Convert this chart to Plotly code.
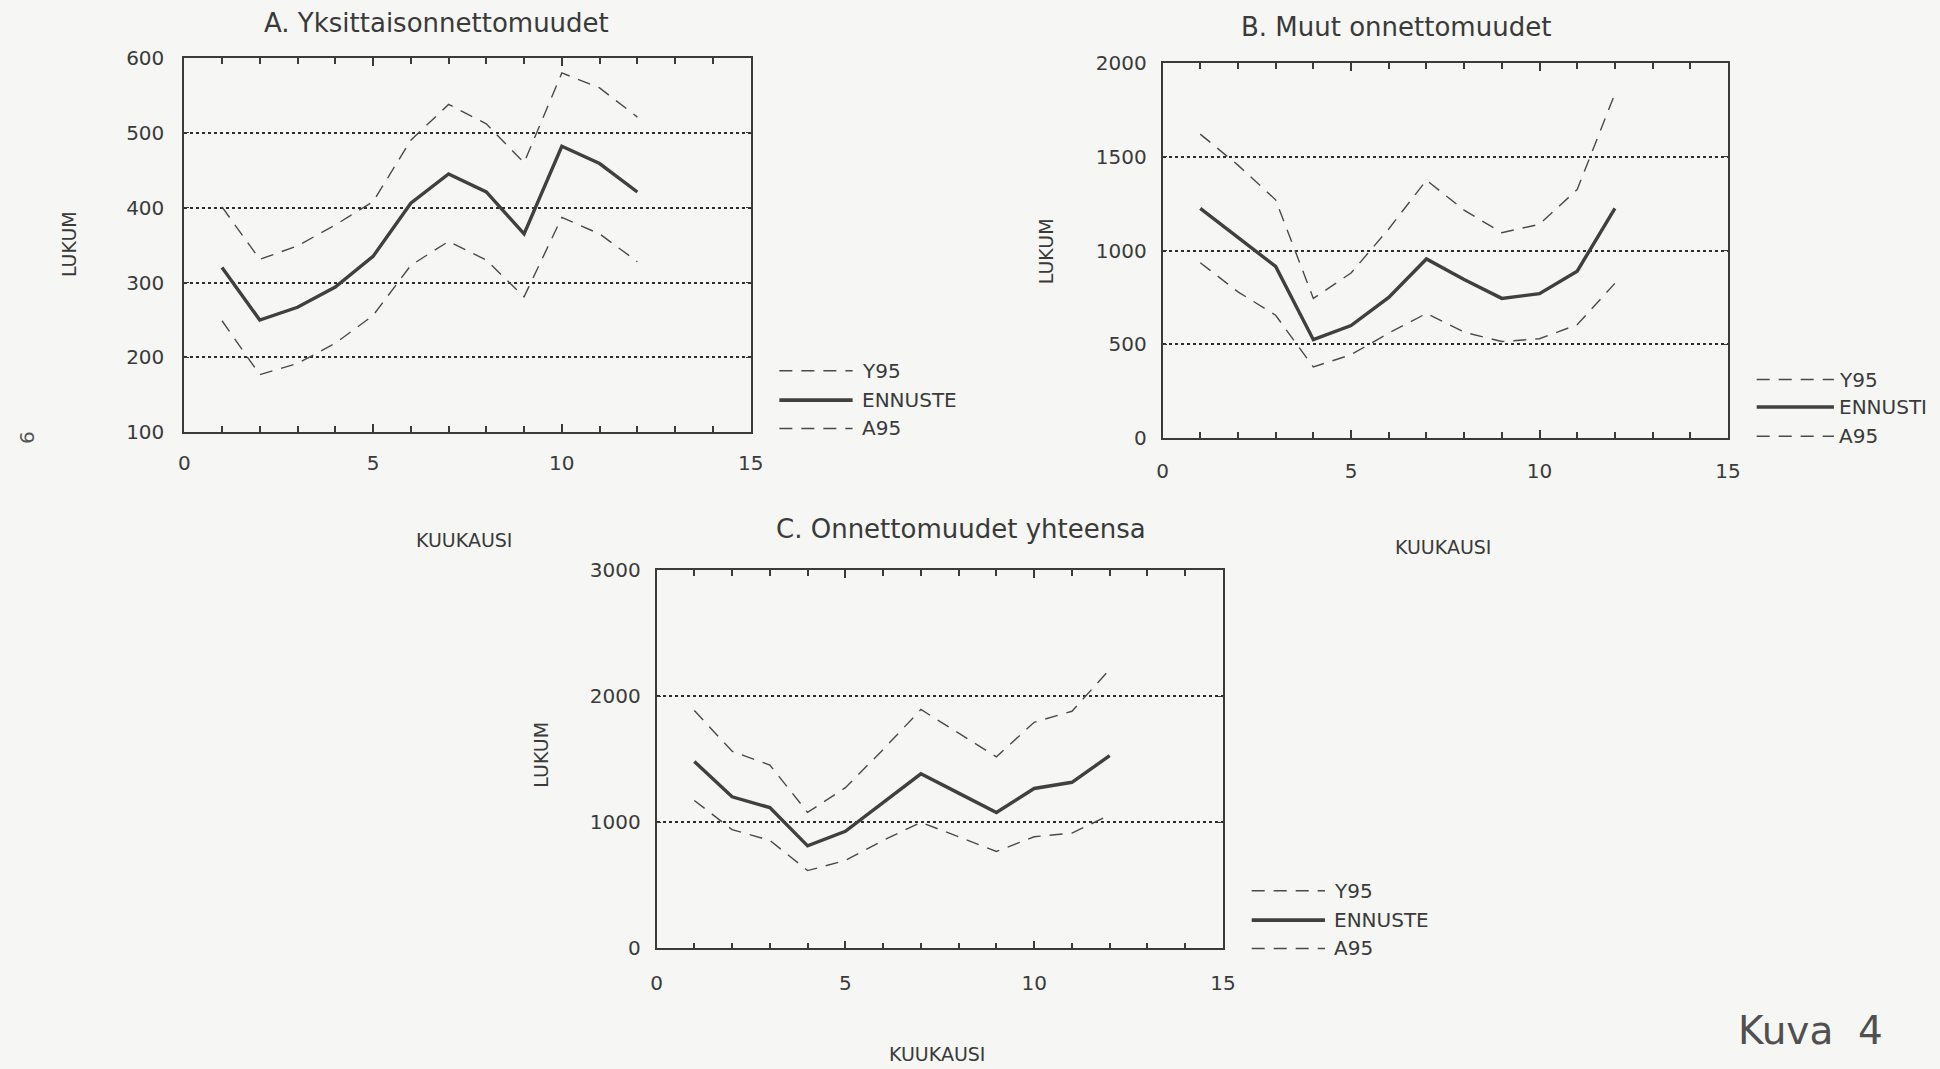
import plotly.graph_objects as go

W, H = 1940, 1069

months = list(range(1, 13))

a_y95 = [401, 331, 349, 377, 408, 490, 538, 512, 460, 580, 560, 521]
a_ennuste = [320, 250, 267, 294, 335, 406, 445, 421, 365, 482, 459, 421]
a_a95 = [249, 177, 192, 219, 256, 323, 355, 330, 281, 387, 365, 328]

b_y95 = [1620, 1455, 1270, 745, 880, 1115, 1375, 1215, 1095, 1140, 1325, 1835]
b_ennuste = [1225, 1070, 915, 525, 600, 750, 955, 845, 745, 770, 890, 1225]
b_a95 = [935, 780, 655, 380, 445, 560, 665, 565, 515, 530, 605, 825]

c_y95 = [1887, 1564, 1455, 1079, 1275, 1578, 1895, 1708, 1520, 1794, 1881, 2213]
c_ennuste = [1483, 1203, 1117, 814, 929, 1160, 1385, 1232, 1079, 1269, 1318, 1529]
c_a95 = [1174, 943, 857, 618, 698, 857, 1001, 886, 770, 886, 915, 1059]

titles = ["A. Yksittaisonnettomuudet", "B. Muut onnettomuudet", "C. Onnettomuudet yhteensa"]
legend_names = [["Y95", "ENNUSTE", "A95"], ["Y95", "ENNUSTI", "A95"], ["Y95", "ENNUSTE", "A95"]]
y_ranges = [[100, 600], [0, 2000], [0, 3000]]
y_dticks = [100, 500, 1000]

FONT = "DejaVu Sans"
INK = "#3a3a3a"
DASH = "13px,9px"

# panel geometry in pixels (left, right, top, bottom)
panels = [(180, 752, 47, 430), (1168, 1739, 52, 436), (657, 1229, 571, 958)]
title_pos = [(435, 11), (1404, 15), (964, 529)]
ylab_pos = [(63, 237), (1051, 245), (540, 760)]
xlab_pos = [(463, 540), (1451, 547), (940, 1066)]
x_standoff = [12, 14, 16]
y_standoff = [14, 10, 10]
# legend: line x0, x1, text x, rows y
legend_pos = [(781, 855, 862, [367, 397, 426]),
              (1768, 1846, 1849, [376, 404, 434]),
              (1258, 1332, 1339, [899, 929, 958])]

series = [(a_y95, a_ennuste, a_a95), (b_y95, b_ennuste, b_a95), (c_y95, c_ennuste, c_a95)]

fig = go.Figure()
annotations = []
shapes = []

def px(x):
    return x / W

def py(y):
    return 1 - y / H

for i, (up, mid, lo) in enumerate(series):
    ax = "" if i == 0 else str(i + 1)
    xa, ya = "x" + ax, "y" + ax
    fig.add_trace(go.Scatter(x=months, y=up, mode="lines", xaxis=xa, yaxis=ya,
                             line=dict(color="#4a4a4a", width=1.4, dash=DASH), showlegend=False))
    fig.add_trace(go.Scatter(x=months, y=mid, mode="lines", xaxis=xa, yaxis=ya,
                             line=dict(color="#404040", width=3.4), showlegend=False))
    fig.add_trace(go.Scatter(x=months, y=lo, mode="lines", xaxis=xa, yaxis=ya,
                             line=dict(color="#4a4a4a", width=1.4, dash=DASH), showlegend=False))

    l, r, t, b = panels[i]
    xkey = "xaxis" + ax
    ykey = "yaxis" + ax
    fig.update_layout(**{
        xkey: dict(domain=[px(l), px(r)], range=[0, 15], anchor=ya,
                   tickmode="linear", tick0=0, dtick=5,
                   ticks="inside", ticklen=8, tickwidth=1.6, tickcolor=INK,
                   minor=dict(dtick=1, ticks="inside", ticklen=6, tickwidth=1.5, tickcolor=INK),
                   showline=True, linecolor=INK, linewidth=1.8, mirror="ticks",
                   showgrid=False, zeroline=False,
                   ticklabelstandoff=x_standoff[i],
                   tickfont=dict(family=FONT, size=20, color=INK)),
        ykey: dict(domain=[py(b), py(t)], range=y_ranges[i], anchor=xa,
                   tickmode="linear", tick0=y_ranges[i][0], dtick=y_dticks[i],
                   ticks="inside", ticklen=5, tickwidth=1.2, tickcolor=INK,
                   showline=True, linecolor=INK, linewidth=1.8, mirror="ticks",
                   showgrid=True, gridcolor="#2e2e2e", gridwidth=1.8, griddash="dot",
                   zeroline=False,
                   ticklabelstandoff=y_standoff[i],
                   tickfont=dict(family=FONT, size=20, color=INK)),
    })

    tx, ty = title_pos[i]
    annotations.append(dict(text=titles[i], x=px(tx), y=py(ty), xref="paper", yref="paper",
                            showarrow=False, xanchor="center", yanchor="middle",
                            font=dict(family=FONT, size=26, color=INK)))
    lx, ly = ylab_pos[i]
    annotations.append(dict(text="LUKUM", x=px(lx), y=py(ly), xref="paper", yref="paper",
                            showarrow=False, textangle=-90, xanchor="center", yanchor="middle",
                            font=dict(family=FONT, size=19, color=INK)))
    kx, ky = xlab_pos[i]
    annotations.append(dict(text="KUUKAUSI", x=px(kx), y=py(ky), xref="paper", yref="paper",
                            showarrow=False, xanchor="center", yanchor="middle",
                            font=dict(family=FONT, size=19, color=INK)))

    x0, x1, txx, rows = legend_pos[i]
    for j, name in enumerate(legend_names[i]):
        yy = py(rows[j])
        if j == 1:
            line = dict(color="#404040", width=3.6)
        else:
            line = dict(color="#4a4a4a", width=1.6, dash=DASH)
        shapes.append(dict(type="line", xref="paper", yref="paper",
                           x0=px(x0), x1=px(x1), y0=yy, y1=yy, line=line))
        annotations.append(dict(text=name, x=px(txx), y=yy, xref="paper", yref="paper",
                                showarrow=False, xanchor="left", yanchor="middle",
                                font=dict(family=FONT, size=20, color=INK)))

annotations.append(dict(text="Kuva&nbsp;&nbsp;4", x=px(1822), y=py(1042), xref="paper", yref="paper",
                        showarrow=False, xanchor="center", yanchor="middle",
                        font=dict(family=FONT, size=39, color="#505050")))
annotations.append(dict(text="6", x=px(21), y=py(435), xref="paper", yref="paper",
                        showarrow=False, textangle=-90, xanchor="center", yanchor="middle",
                        font=dict(family=FONT, size=20, color="#555555")))

fig.update_layout(
    width=W, height=H,
    margin=dict(l=0, r=0, t=0, b=0),
    paper_bgcolor="#f6f6f4",
    plot_bgcolor="rgba(0,0,0,0)",
    showlegend=False,
    annotations=annotations,
    shapes=shapes,
)

fig.write_html(
    "out.html",
    config={"displayModeBar": False},
    post_script="document.body.style.margin='0';document.body.style.padding='0';"
                "document.body.style.overflow='hidden';"
                "document.documentElement.style.overflow='hidden';",
)
